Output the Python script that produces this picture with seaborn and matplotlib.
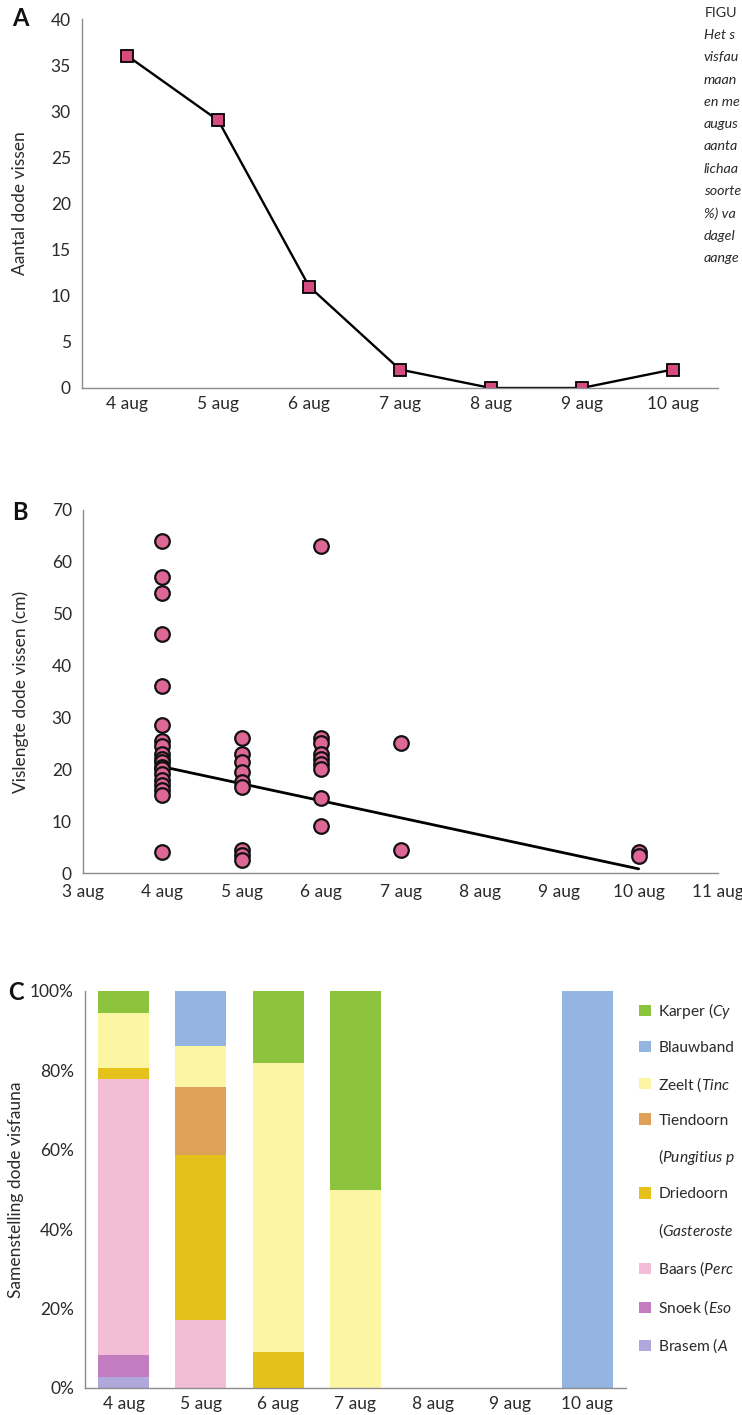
import matplotlib
matplotlib.use("Agg")
import matplotlib.pyplot as plt
import seaborn as sns
import pandas as pd
import numpy as np
from matplotlib.patches import Patch

# ---------------- data ----------------
days = ["4 aug", "5 aug", "6 aug", "7 aug", "8 aug", "9 aug", "10 aug"]
dead_counts = [36, 29, 11, 2, 0, 0, 2]

# panel B: fish lengths (cm) per day number
len_4 = [64, 57, 54, 46, 36, 28.5, 25.5, 24.5, 23, 22, 21.5, 20.5, 20, 19, 18, 17, 16, 15, 4]
len_5 = [26, 23, 21.5, 19.5, 17.5, 16.5, 4.5, 3.5, 2.5]
len_6 = [63, 26, 25, 23, 22, 21, 20, 14.5, 9]
len_7 = [25, 4.5]
len_10 = [4, 3.2]
trend_x = [4, 10]
trend_y = [20.5, 0.8]
b_ticks = [3, 4, 5, 6, 7, 8, 9, 10, 11]
b_ticklabels = ["3 aug", "4 aug", "5 aug", "6 aug", "7 aug", "8 aug", "9 aug", "10 aug", "11 aug"]

# panel C: counts per species per day (bottom -> top)
species = ["Brasem", "Snoek", "Baars", "Driedoorn", "Tiendoorn", "Zeelt", "Blauwband", "Karper"]
cnt_brasem    = [1, 0, 0, 0, 0, 0, 0]
cnt_snoek     = [2, 0, 0, 0, 0, 0, 0]
cnt_baars     = [25, 5, 0, 0, 0, 0, 0]
cnt_driedoorn = [1, 12, 1, 0, 0, 0, 0]
cnt_tiendoorn = [0, 5, 0, 0, 0, 0, 0]
cnt_zeelt     = [5, 3, 8, 1, 0, 0, 0]
cnt_blauwband = [0, 4, 0, 0, 0, 0, 2]
cnt_karper    = [2, 0, 2, 1, 0, 0, 0]
species_colors = ["#b0a8da", "#c47cc0", "#f3bdd7", "#e5c21a", "#dfa057",
                  "#fbf5a4", "#94b5e2", "#8cc43e"]

caption_lines = ["FIGU", "Het s", "visfau", "maan", "en me", "augus", "aanta",
                 "lichaa", "soorte", "%) va", "dagel", "aange"]

legend_labels = [r"Karper ($\mathit{Cy}$", "Blauwband", r"Zeelt ($\mathit{Tinc}$",
                 "Tiendoorn", r"($\mathit{Pungitius}\ \mathit{p}$", "Driedoorn",
                 r"($\mathit{Gasteroste}$", r"Baars ($\mathit{Perc}$",
                 r"Snoek ($\mathit{Eso}$", r"Brasem ($\mathit{A}$"]
legend_species = ["Karper", "Blauwband", "Zeelt", "Tiendoorn", None, "Driedoorn",
                  None, "Baars", "Snoek", "Brasem"]

# ---------------- style ----------------
sns.set_theme(style="white")
plt.rcParams['font.family'] = ['Lato', 'DejaVu Sans']
plt.rcParams['mathtext.fontset'] = 'custom'
plt.rcParams['mathtext.rm'] = 'Lato'
plt.rcParams['mathtext.it'] = 'Lato:italic'
TXT = "#2a2a2a"
SP = "#8c8c8c"
FS = 12.5
LFS = 11.2

W, H = 742, 1415
fig = plt.figure(figsize=(W / 100, H / 100), dpi=100)


def px_axes(l, t, r, b):
    return fig.add_axes([l / W, 1 - b / H, (r - l) / W, (b - t) / H])


def style_ax(ax):
    for s in ["top", "right"]:
        ax.spines[s].set_visible(False)
    for s in ["left", "bottom"]:
        ax.spines[s].set_color(SP)
        ax.spines[s].set_linewidth(1.0)
    ax.tick_params(axis="both", which="both", direction="out", color=SP,
                   labelcolor=TXT, labelsize=FS, width=1.0)
    ax.tick_params(axis="y", length=5, pad=3)


# ---------------- panel A ----------------
axA = px_axes(82, 19, 718, 388)
dfA = pd.DataFrame({"day": days, "n": dead_counts})
sns.lineplot(data=dfA, x="day", y="n", ax=axA, color="black", lw=1.7,
             marker="s", markersize=8.5, markerfacecolor="#d64b80",
             markeredgecolor="black", markeredgewidth=1.3, sort=False)
style_ax(axA)
axA.set_xlim(-0.5, len(days) - 0.5)
axA.set_ylim(0, 40)
axA.set_yticks(range(0, 41, 5))
axA.set_xticks(range(len(days)))
axA.set_xticklabels(days)
axA.set_xticks(np.arange(-0.5, len(days), 1.0), minor=True)
axA.tick_params(axis="x", which="major", length=0, pad=6)
axA.tick_params(axis="x", which="minor", length=6)
axA.set_xlabel("")
axA.set_ylabel("Aantal dode vissen", fontsize=FS, color=TXT)
axA.yaxis.set_label_coords(-0.085, 0.5)
fig.text(12 / W, 1 - 18 / H, "A", fontsize=17, fontweight="bold", color="#111", va="center")

# ---------------- panel B ----------------
axB = px_axes(83, 510, 718, 873)
dfB = pd.DataFrame({
    "day": [4] * len(len_4) + [5] * len(len_5) + [6] * len(len_6) + [7] * len(len_7) + [10] * len(len_10),
    "len": len_4 + len_5 + len_6 + len_7 + len_10,
})
sns.lineplot(x=trend_x, y=trend_y, ax=axB, color="black", lw=2.0, zorder=2)
sns.scatterplot(data=dfB, x="day", y="len", ax=axB, s=110, color="#df6798",
                edgecolor="#111", linewidth=1.6, zorder=3)
style_ax(axB)
axB.set_xlim(3, 11)
axB.set_ylim(0, 70)
axB.set_yticks(range(0, 71, 10))
axB.set_xticks(b_ticks)
axB.set_xticklabels(b_ticklabels)
axB.tick_params(axis="x", length=6, pad=2)
axB.set_xlabel("")
axB.set_ylabel("Vislengte dode vissen (cm)", fontsize=FS, color=TXT)
axB.yaxis.set_label_coords(-0.085, 0.5)
for c in axB.collections:
    c.set_clip_on(False)
fig.text(12 / W, 1 - 512 / H, "B", fontsize=17, fontweight="bold", color="#111", va="center")

# ---------------- panel C ----------------
axC = px_axes(85, 991, 626, 1388)
counts = np.array([cnt_brasem, cnt_snoek, cnt_baars, cnt_driedoorn, cnt_tiendoorn,
                   cnt_zeelt, cnt_blauwband, cnt_karper], dtype=float)
totals = counts.sum(axis=0)
pct = np.divide(counts, totals, out=np.zeros_like(counts), where=totals > 0) * 100
cum = np.cumsum(pct, axis=0)
for i in range(len(species) - 1, -1, -1):
    sns.barplot(x=days, y=cum[i], order=days, color=species_colors[i], ax=axC,
                width=0.66, saturation=1, linewidth=0, edgecolor="none")
style_ax(axC)
axC.set_xlim(-0.5, len(days) - 0.5)
axC.set_ylim(0, 100)
axC.set_yticks(range(0, 101, 20))
axC.set_yticklabels([f"{v}%" for v in range(0, 101, 20)])
axC.set_xticks(range(len(days)))
axC.set_xticklabels(days)
axC.set_xticks(np.arange(0.5, len(days), 1.0), minor=True)
axC.tick_params(axis="x", which="major", length=0, pad=6)
axC.tick_params(axis="x", which="minor", length=6)
axC.set_xlabel("")
axC.set_ylabel("Samenstelling dode visfauna", fontsize=FS, color=TXT)
axC.yaxis.set_label_coords(-0.112, 0.5)
fig.text(8 / W, 1 - 993 / H, "C", fontsize=17, fontweight="bold", color="#111", va="center")

handles = []
for sp in legend_species:
    if sp is None:
        handles.append(Patch(facecolor="none", edgecolor="none"))
    else:
        handles.append(Patch(facecolor=species_colors[species.index(sp)], edgecolor="none"))
fig.legend(handles, legend_labels, loc="upper left",
           bbox_to_anchor=(639 / W, 1 - 1001 / H), frameon=False, fontsize=LFS,
           handlelength=0.75, handleheight=0.75, handletextpad=0.5,
           labelspacing=1.28, borderaxespad=0, borderpad=0, labelcolor=TXT)

# ---------------- caption fragment ----------------
fig.text(705 / W, 1 - 13 / H, caption_lines[0], fontsize=10.3, color=TXT, va="center")
for k, line in enumerate(caption_lines[1:]):
    fig.text(704 / W, 1 - (35 + k * 22.3) / H, line, fontsize=10.3, color=TXT,
             va="center", style="italic")

fig.savefig("out.png", dpi=100)
